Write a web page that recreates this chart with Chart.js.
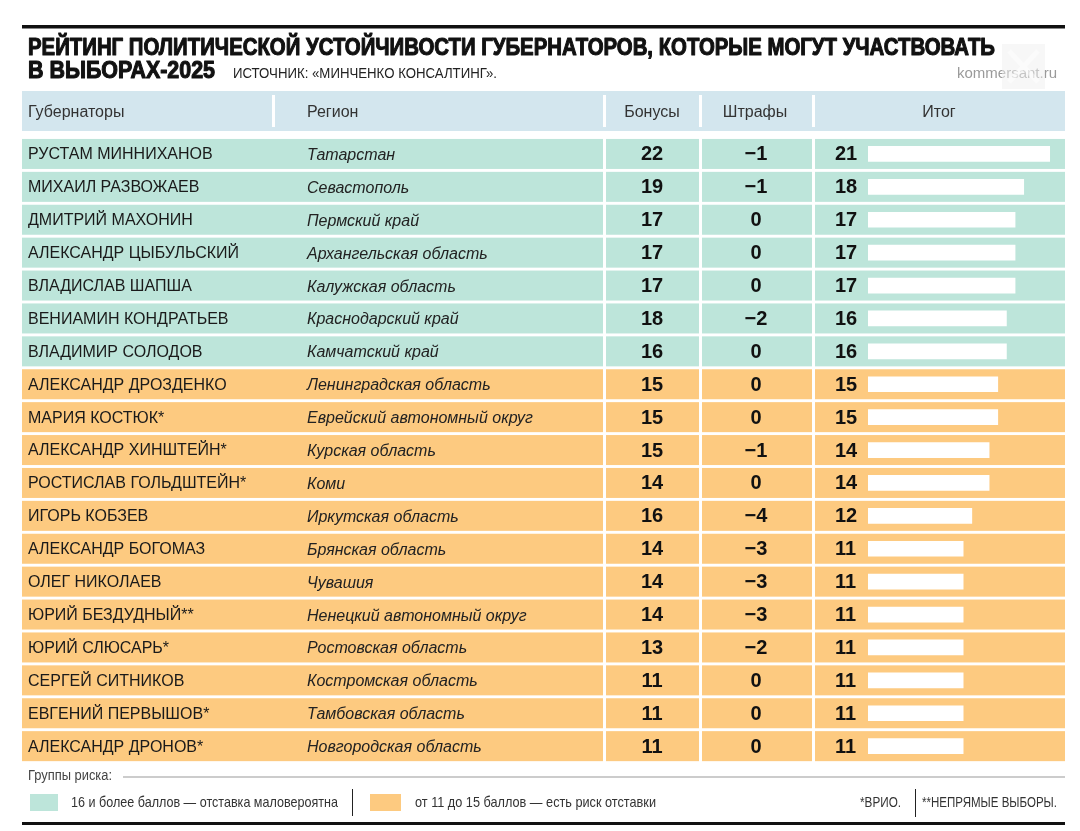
<!DOCTYPE html>
<html>
<head>
<meta charset="utf-8">
<script src="https://cdn.jsdelivr.net/npm/chart.js@4/dist/chart.umd.min.js"></script>
<style>
html,body{margin:0;padding:0;background:#fff;}
#wrap{position:relative;width:1080px;height:831px;}
</style>
</head>
<body>
<div id="wrap"><canvas id="c"></canvas></div>
<script>
const governors = ["РУСТАМ МИННИХАНОВ","МИХАИЛ РАЗВОЖАЕВ","ДМИТРИЙ МАХОНИН","АЛЕКСАНДР ЦЫБУЛЬСКИЙ","ВЛАДИСЛАВ ШАПША","ВЕНИАМИН КОНДРАТЬЕВ","ВЛАДИМИР СОЛОДОВ","АЛЕКСАНДР ДРОЗДЕНКО","МАРИЯ КОСТЮК*","АЛЕКСАНДР ХИНШТЕЙН*","РОСТИСЛАВ ГОЛЬДШТЕЙН*","ИГОРЬ КОБЗЕВ","АЛЕКСАНДР БОГОМАЗ","ОЛЕГ НИКОЛАЕВ","ЮРИЙ БЕЗДУДНЫЙ**","ЮРИЙ СЛЮСАРЬ*","СЕРГЕЙ СИТНИКОВ","ЕВГЕНИЙ ПЕРВЫШОВ*","АЛЕКСАНДР ДРОНОВ*"];
const regions = ["Татарстан","Севастополь","Пермский край","Архангельская область","Калужская область","Краснодарский край","Камчатский край","Ленинградская область","Еврейский автономный округ","Курская область","Коми","Иркутская область","Брянская область","Чувашия","Ненецкий автономный округ","Ростовская область","Костромская область","Тамбовская область","Новгородская область"];
const bonuses = [22,19,17,17,17,18,16,15,15,15,14,16,14,14,14,13,11,11,11];
const penalties = [-1,-1,0,0,0,-2,0,0,0,-1,0,-4,-3,-3,-3,-2,0,0,0];
const totals = [21,18,17,17,17,16,16,15,15,14,14,12,11,11,11,11,11,11,11];
const headers = ["Губернаторы","Регион","Бонусы","Штрафы","Итог"];
const title1 = "РЕЙТИНГ ПОЛИТИЧЕСКОЙ УСТОЙЧИВОСТИ ГУБЕРНАТОРОВ, КОТОРЫЕ МОГУТ УЧАСТВОВАТЬ";
const title2 = "В ВЫБОРАХ-2025";
const sourceText = "ИСТОЧНИК: «МИНЧЕНКО КОНСАЛТИНГ».";
const legendTitle = "Группы риска:";
const legendHigh = "16 и более баллов — отставка маловероятна";
const legendMid = "от 11 до 15 баллов — есть риск отставки";
const noteActing = "*ВРИО.";
const noteIndirect = "**НЕПРЯМЫЕ ВЫБОРЫ.";
const highThreshold = 16;

const TEAL = "#bde5da";
const ORANGE = "#fdca80";
const HEAD = "#d3e6ee";
const SANS = "'Liberation Sans', Arial, sans-serif";

function fitText(ctx, text, x, y, width, font, color, stroke) {
  ctx.save();
  ctx.font = font;
  ctx.fillStyle = color;
  ctx.textBaseline = "middle";
  ctx.textAlign = "left";
  const w = ctx.measureText(text).width;
  const s = width / w;
  ctx.translate(x, y);
  ctx.scale(s, 1);
  ctx.fillText(text, 0, 0);
  if (stroke) {
    ctx.strokeStyle = color; ctx.lineWidth = stroke; ctx.lineJoin = "round";
    ctx.strokeText(text, 0, 0);
  }
  ctx.restore();
}
function txt(ctx, text, x, y, font, color, align) {
  ctx.save();
  ctx.font = font; ctx.fillStyle = color;
  ctx.textAlign = align || "left"; ctx.textBaseline = "middle";
  ctx.fillText(text, x, y);
  ctx.restore();
}
function fmt(v){ return v < 0 ? "\u2212" + Math.abs(v) : String(v); }

const tablePlugin = {
  id: "tablePlugin",
  beforeDatasetsDraw(chart) {
    const ctx = chart.ctx;
    const y = chart.scales.y;
    ctx.save();
    ctx.fillStyle = "#111";
    ctx.fillRect(22, 25, 1043, 3.5);
    ctx.fillStyle = HEAD;
    ctx.fillRect(22, 91, 1043, 40);
    ctx.fillStyle = "#fff";
    [272, 603, 699, 812].forEach(x => ctx.fillRect(x, 95, 3, 32));
    const segs = [[22, 603], [606, 699], [702, 812], [815, 1065]];
    totals.forEach((t, i) => {
      const cy = y.getPixelForValue(i);
      ctx.fillStyle = t >= highThreshold ? TEAL : ORANGE;
      segs.forEach(s => ctx.fillRect(s[0], cy - 15, s[1] - s[0], 30));
    });
    ctx.fillStyle = "#9a9a9a";
    ctx.fillRect(123, 776.5, 942, 1);
    ctx.fillStyle = TEAL; ctx.fillRect(30, 794, 28, 17);
    ctx.fillStyle = ORANGE; ctx.fillRect(370, 794, 31, 17);
    ctx.fillStyle = "#222";
    ctx.fillRect(352, 789, 1, 27);
    ctx.fillRect(915, 789, 1, 28);
    ctx.fillStyle = "#111";
    ctx.fillRect(22, 822, 1043, 3);
    ctx.restore();
  },
  afterDatasetsDraw(chart) {
    const ctx = chart.ctx;
    const y = chart.scales.y;
    fitText(ctx, title1, 28, 48.5, 967, "bold 24px " + SANS, "#111", 1.1);
    fitText(ctx, title2, 28, 71.5, 187, "bold 24px " + SANS, "#111", 1.1);
    fitText(ctx, sourceText, 233, 74, 264, "15px " + SANS, "#222");
    txt(ctx, "kommersant.ru", 1057, 74, "15px " + SANS, "#9a9a9a", "right");
    ctx.save();
    ctx.globalAlpha = 0.5;
    ctx.fillStyle = "#f0f0f0";
    ctx.fillRect(1002, 44, 43, 45);
    ctx.strokeStyle = "#ffffff"; ctx.lineWidth = 5;
    ctx.beginPath(); ctx.moveTo(1009, 51); ctx.lineTo(1038, 82); ctx.moveTo(1038, 51); ctx.lineTo(1009, 82); ctx.stroke();
    ctx.restore();
    const hf = "16px " + SANS, hc = "#333";
    txt(ctx, headers[0], 28, 113, hf, hc, "left");
    txt(ctx, headers[1], 307, 113, hf, hc, "left");
    txt(ctx, headers[2], 652, 113, hf, hc, "center");
    txt(ctx, headers[3], 755, 113, hf, hc, "center");
    txt(ctx, headers[4], 939, 113, hf, hc, "center");
    totals.forEach((t, i) => {
      const cy = y.getPixelForValue(i) + 1;
      txt(ctx, governors[i], 28, cy, "16px " + SANS, "#1a1a1a", "left");
      txt(ctx, regions[i], 307, cy + 0.5, "italic 16px " + SANS, "#222", "left");
      txt(ctx, fmt(bonuses[i]), 652, cy, "bold 20px " + SANS, "#111", "center");
      txt(ctx, fmt(penalties[i]), 756, cy, "bold 20px " + SANS, "#111", "center");
      txt(ctx, fmt(t), 835, cy, "bold 20px " + SANS, "#111", "left");
    });
    fitText(ctx, legendTitle, 28, 776, 84, "14px " + SANS, "#444");
    fitText(ctx, legendHigh, 71, 803, 267, "15px " + SANS, "#333");
    fitText(ctx, legendMid, 415, 803, 241, "15px " + SANS, "#333");
    fitText(ctx, noteActing, 860, 803, 41, "15px " + SANS, "#333");
    fitText(ctx, noteIndirect, 922, 803, 135, "15px " + SANS, "#333");
  }
};

new Chart(document.getElementById("c"), {
  type: "bar",
  data: {
    labels: governors,
    datasets: [{
      data: totals,
      backgroundColor: "#ffffff",
      borderWidth: 0,
      barThickness: 15
    }]
  },
  options: {
    indexAxis: "y",
    responsive: true,
    maintainAspectRatio: false,
    animation: false,
    layout: { padding: { left: 868, right: 15, top: 137.5, bottom: 68.4 } },
    scales: {
      x: { display: false, min: 0, max: 22.77 },
      y: { display: false }
    },
    plugins: { legend: { display: false }, tooltip: { enabled: false } }
  },
  plugins: [tablePlugin]
});
</script>
</body>
</html>
